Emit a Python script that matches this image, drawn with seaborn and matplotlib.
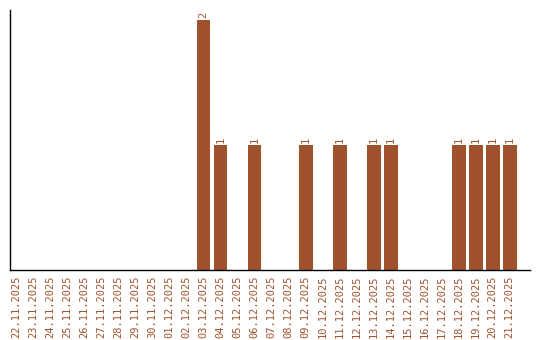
import matplotlib
matplotlib.use("Agg")
import matplotlib.pyplot as plt
import seaborn as sns
import pandas as pd

dates = ["22.11.2025", "23.11.2025", "24.11.2025", "25.11.2025", "26.11.2025",
         "27.11.2025", "28.11.2025", "29.11.2025", "30.11.2025", "01.12.2025",
         "02.12.2025", "03.12.2025", "04.12.2025", "05.12.2025", "06.12.2025",
         "07.12.2025", "08.12.2025", "09.12.2025", "10.12.2025", "11.12.2025",
         "12.12.2025", "13.12.2025", "14.12.2025", "15.12.2025", "16.12.2025",
         "17.12.2025", "18.12.2025", "19.12.2025", "20.12.2025", "21.12.2025"]
counts = [0, 0, 0, 0, 0, 0, 0, 0, 0, 0,
          0, 2, 1, 0, 1, 0, 0, 1, 0, 1,
          0, 1, 1, 0, 0, 0, 1, 1, 1, 1]

color = "#A0522D"
df = pd.DataFrame({"date": dates, "count": counts})

sns.set_style("white")
plt.rcParams['font.family'] = ['DejaVu Sans Mono', 'DejaVu Sans']

fig = plt.figure(figsize=(5.4, 3.4), dpi=100)
ax = fig.add_axes([10/540, 70/340, 520/540, 260/340])
sns.barplot(data=df, x="date", y="count", color=color, saturation=1, width=0.82,
            linewidth=0, edgecolor="none", ax=ax)

for i, v in enumerate(counts):
    if v > 0:
        ax.text(i, v + 0.02, str(v), rotation=90, ha="center", va="bottom",
                fontsize=7.5, color=color)

ax.set_xlim(-0.38, 30.2)
ax.set_ylim(0, 2.08)
ax.set_xlabel("")
ax.set_ylabel("")
ax.set_yticks([])
ax.tick_params(axis="x", length=0, pad=4)
ax.set_xticks(range(len(dates)))
ax.set_xticklabels(dates, rotation=90, fontsize=7.5, color=color)
for s in ["top", "right"]:
    ax.spines[s].set_visible(False)
for s in ["left", "bottom"]:
    ax.spines[s].set_color("black")
    ax.spines[s].set_linewidth(1)

fig.savefig("out.png", dpi=100)
